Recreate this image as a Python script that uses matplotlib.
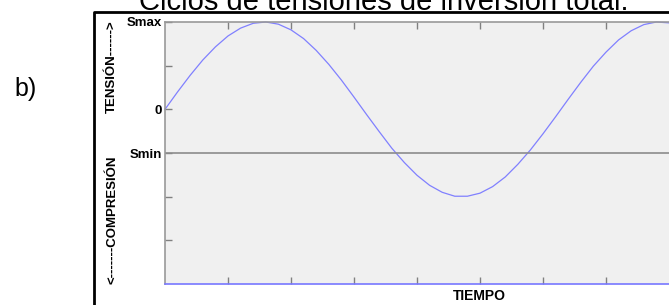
import matplotlib.pyplot as plt
from matplotlib.lines import Line2D

# values (time in tick units, stress in grid units)
tiempo = [0.0, 0.2, 0.4, 0.6, 0.8, 1.0, 1.2, 1.4, 1.6, 1.8,
          2.0, 2.2, 2.4, 2.6, 2.8, 3.0, 3.2, 3.4, 3.6, 3.8,
          4.0, 4.2, 4.4, 4.6, 4.8, 5.0, 5.2, 5.4, 5.6, 5.8,
          6.0, 6.2, 6.4, 6.6, 6.8, 7.0, 7.2, 7.4, 7.6, 7.8, 8.0]
tension = [0.00, 0.40, 0.78, 1.13, 1.43, 1.68, 1.86, 1.97, 2.00, 1.95,
           1.82, 1.62, 1.35, 1.03, 0.67, 0.28, -0.12, -0.51, -0.89, -1.22,
           -1.51, -1.74, -1.90, -1.99, -1.99, -1.92, -1.77, -1.55, -1.26, -0.93,
           -0.56, -0.17, 0.23, 0.62, 0.99, 1.31, 1.59, 1.80, 1.94, 2.00, 1.98]
y_ticks = [2, 1, 0, -1, -2, -3]
y_labels = ["Smax", "", "0", "Smin", "", ""]
x_ticks = [1, 2, 3, 4, 5, 6, 7]
smin = -1

fig = plt.figure(figsize=(6.69, 3.05), dpi=100)
W, H = 669, 305

ax = fig.add_axes([165 / W, 1 - 284 / H, 504 / W, 262 / H])
ax.set_facecolor("#f0f0f0")
ax.plot(tiempo, tension, color="#8080ff", lw=0.9, clip_on=False)
ax.axhline(smin, color="#8c8c8c", lw=1.2)
ax.set_xlim(0, 8)
ax.set_ylim(-4, 2)

ax.set_yticks(y_ticks)
ax.set_yticklabels(y_labels, fontsize=9.5, fontweight="bold", family="Liberation Sans")
ax.set_xticks(x_ticks)
ax.set_xticklabels([])
ax.tick_params(axis="both", direction="in", length=5, color="#808080", width=1, pad=2)
ax.tick_params(axis="x", top=True)

for s in ["left", "top"]:
    ax.spines[s].set_color("#999999")
    ax.spines[s].set_linewidth(1.2)
ax.spines["right"].set_visible(False)
ax.spines["bottom"].set_color("#7777ff")
ax.spines["bottom"].set_linewidth(1.2)

# side labels
fig.text(112 / W, 1 - 67 / H, "TENSIÓN------>", rotation=90, ha="center", va="center",
         fontsize=9.5, fontweight="bold", family="Liberation Sans")
fig.text(112 / W, 1 - 220 / H, "<-------COMPRESIÓN", rotation=90, ha="center", va="center",
         fontsize=9.5, fontweight="bold", family="Liberation Sans")
fig.text(479 / W, 1 - 296 / H, "TIEMPO", ha="center", va="center",
         fontsize=10, fontweight="bold", family="Liberation Sans")

# outer frame and labels
fig.add_artist(Line2D([94 / W, 94 / W, 1.01], [-0.01, 1 - 12 / H, 1 - 12 / H],
                      transform=fig.transFigure, color="black", lw=2))
fig.text(384 / W, 1 - 10 / H, "Ciclos de tensiones de inversión total.", ha="center",
         va="baseline", fontsize=21, family="Liberation Sans")
fig.text(26 / W, 1 - 89 / H, "b)", ha="center", va="center", fontsize=18,
         family="Liberation Sans")

fig.savefig("out.png", dpi=100)
